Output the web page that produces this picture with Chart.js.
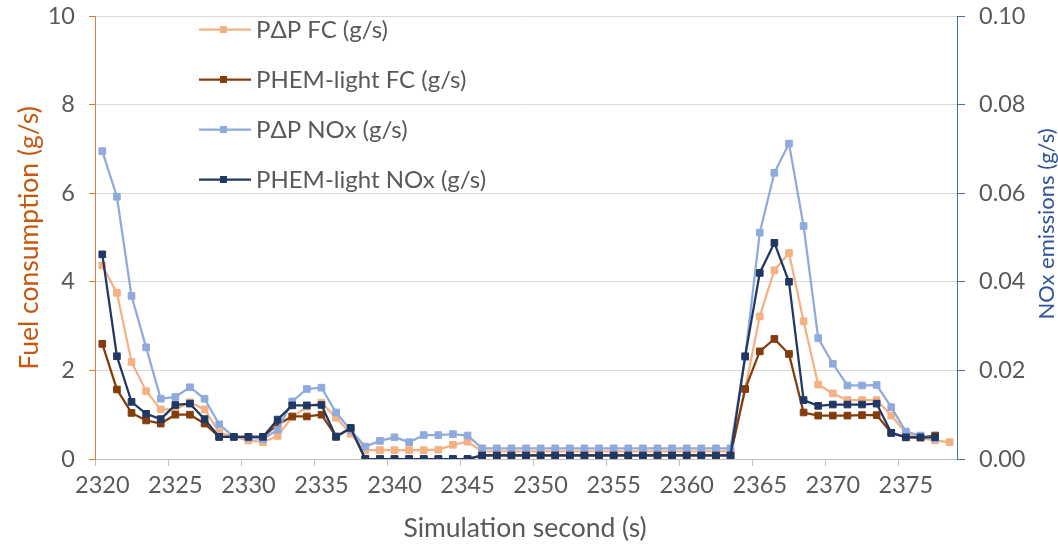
<!DOCTYPE html>
<html>
<head>
<meta charset="utf-8">
<script src="https://cdn.jsdelivr.net/npm/chart.js@4.4.1/dist/chart.umd.min.js"></script>
<style>
  html, body { margin: 0; padding: 0; background: #fff; }
  #wrap { width: 1058px; height: 544px; }
</style>
</head>
<body>
<div id="wrap"><canvas id="chart" width="1058" height="544"></canvas></div>
<script>
// simulation seconds 2320 .. 2378
const seconds = [
  2320, 2321, 2322, 2323, 2324, 2325, 2326, 2327, 2328, 2329,
  2330, 2331, 2332, 2333, 2334, 2335, 2336, 2337, 2338, 2339,
  2340, 2341, 2342, 2343, 2344, 2345, 2346, 2347, 2348, 2349,
  2350, 2351, 2352, 2353, 2354, 2355, 2356, 2357, 2358, 2359,
  2360, 2361, 2362, 2363, 2364, 2365, 2366, 2367, 2368, 2369,
  2370, 2371, 2372, 2373, 2374, 2375, 2376, 2377, 2378
];

// fuel consumption (g/s), left axis
const pdpFC = [
  4.37, 3.75, 2.19, 1.53, 1.12, 1.12, 1.28, 1.12, 0.60, 0.50,
  0.42, 0.38, 0.52, 0.95, 1.18, 1.27, 0.93, 0.57, 0.20, 0.20,
  0.20, 0.20, 0.20, 0.21, 0.32, 0.39, 0.17, 0.17, 0.17, 0.17,
  0.17, 0.17, 0.17, 0.17, 0.17, 0.17, 0.17, 0.17, 0.17, 0.17,
  0.17, 0.17, 0.17, 0.17, 1.58, 3.22, 4.26, 4.65, 3.11, 1.68,
  1.48, 1.33, 1.33, 1.33, 0.98, 0.59, 0.47, 0.42, 0.38
];
const phemFC = [
  2.60, 1.57, 1.04, 0.87, 0.80, 1.00, 1.00, 0.80, 0.50, 0.50,
  0.50, 0.50, 0.78, 0.96, 0.96, 1.00, 0.51, 0.70, 0.00, 0.00,
  0.00, 0.00, 0.00, 0.00, 0.00, 0.00, 0.08, 0.08, 0.08, 0.08,
  0.08, 0.08, 0.08, 0.08, 0.08, 0.08, 0.08, 0.08, 0.08, 0.08,
  0.08, 0.08, 0.08, 0.08, 1.58, 2.43, 2.71, 2.37, 1.05, 0.98,
  0.98, 0.98, 0.99, 0.99, 0.59, 0.49, 0.49, 0.53, null
];

// NOx emissions (g/s), right axis
const pdpNOx = [
  0.0695, 0.0592, 0.0368, 0.0252, 0.0136, 0.0140, 0.0162, 0.0136, 0.0078, 0.0050,
  0.0048, 0.0045, 0.0066, 0.0130, 0.0158, 0.0161, 0.0105, 0.0065, 0.0028, 0.0041,
  0.0049, 0.0038, 0.0054, 0.0054, 0.0056, 0.0053, 0.0024, 0.0024, 0.0024, 0.0024,
  0.0024, 0.0024, 0.0024, 0.0024, 0.0024, 0.0024, 0.0024, 0.0024, 0.0024, 0.0024,
  0.0024, 0.0024, 0.0024, 0.0024, 0.0230, 0.0511, 0.0646, 0.0712, 0.0526, 0.0273,
  0.0215, 0.0166, 0.0166, 0.0167, 0.0117, 0.0062, 0.0053, 0.0047, null
];
const phemNOx = [
  0.0462, 0.0232, 0.0129, 0.0102, 0.0090, 0.0122, 0.0125, 0.0090, 0.0050, 0.0050,
  0.0050, 0.0050, 0.0089, 0.0121, 0.0121, 0.0122, 0.0050, 0.0070, 0.0000, 0.0000,
  0.0000, 0.0000, 0.0000, 0.0000, 0.0000, 0.0000, 0.0008, 0.0008, 0.0008, 0.0008,
  0.0008, 0.0008, 0.0008, 0.0008, 0.0008, 0.0008, 0.0008, 0.0008, 0.0008, 0.0008,
  0.0008, 0.0008, 0.0008, 0.0008, 0.0232, 0.0420, 0.0488, 0.0400, 0.0133, 0.0120,
  0.0123, 0.0123, 0.0123, 0.0125, 0.0059, 0.0049, 0.0049, 0.0049, null
];

const fuelTicks = [0, 2, 4, 6, 8, 10];
const noxTicks = [0, 0.02, 0.04, 0.06, 0.08, 0.10];

const xTitle = 'Simulation second (s)';
const fuelTitle = 'Fuel consumption (g/s)';
const noxTitle = 'NOx emissions (g/s)';

const FONT = 'Lato, "Open Sans", sans-serif';
const TEXT = '#595959';

function series(label, data, color, axis, order) {
    return {
        label: label,
        data: data,
        yAxisID: axis,
        borderColor: color,
        backgroundColor: color,
        pointBackgroundColor: color,
        pointBorderColor: color,
        borderWidth: 2.25,
        pointStyle: 'rect',
        pointRadius: 4.7,
        pointBorderWidth: 1,
        tension: 0,
        order: order
    };
}

// legend inside the plot area + axis titles (right one reads bottom-up)
const decorations = {
    id: 'decorations',
    afterDraw(chart) {
        const ctx = chart.ctx;
        ctx.save();
        ctx.textBaseline = 'middle';
        chart.data.datasets.forEach((ds, i) => {
            const y = 29.5 + i * 50;
            ctx.strokeStyle = ds.borderColor;
            ctx.lineWidth = 2.25;
            ctx.beginPath();
            ctx.moveTo(199, y);
            ctx.lineTo(251, y);
            ctx.stroke();
            ctx.fillStyle = ds.borderColor;
            ctx.fillRect(220, y - 3.5, 7, 7);
            ctx.fillStyle = TEXT;
            ctx.font = '24px ' + FONT;
            ctx.textAlign = 'left';
            ctx.fillText(ds.label, 256, y + 1);
        });

        ctx.textAlign = 'center';
        ctx.fillStyle = TEXT;
        ctx.font = '26.5px ' + FONT;
        ctx.fillText(xTitle, 525, 528);

        ctx.save();
        ctx.translate(29, 238);
        ctx.rotate(-Math.PI / 2);
        ctx.fillStyle = '#C65911';
        ctx.font = '26.5px ' + FONT;
        ctx.fillText(fuelTitle, 0, 0);
        ctx.restore();

        ctx.save();
        ctx.translate(1047, 224);
        ctx.rotate(-Math.PI / 2);
        ctx.fillStyle = '#2F5597';
        ctx.font = '22px ' + FONT;
        ctx.fillText(noxTitle, 0, 0);
        ctx.restore();

        ctx.restore();
    }
};

function fixVertical(width) {
    return (s) => {
        s.width = width;
        s.paddingTop = 0;
        s.paddingBottom = 0;
    };
}

new Chart(document.getElementById('chart'), {
    type: 'line',
    data: {
        labels: seconds,
        datasets: [
            series('P\u0394P FC (g/s)', pdpFC, '#F4B183', 'y', 4),
            series('PHEM-light FC (g/s)', phemFC, '#843C0C', 'y', 3),
            series('P\u0394P NOx (g/s)', pdpNOx, '#8FAADC', 'y1', 2),
            series('PHEM-light NOx (g/s)', phemNOx, '#203864', 'y1', 1)
        ]
    },
    options: {
        responsive: false,
        devicePixelRatio: 1,
        animation: false,
        layout: { padding: { top: 16, right: 0, left: 0, bottom: 0 } },
        plugins: {
            legend: { display: false },
            tooltip: { enabled: false }
        },
        scales: {
            x: {
                type: 'category',
                offset: true,
                border: { color: '#BFBFBF', width: 1 },
                grid: {
                    offset: true,
                    drawOnChartArea: false,
                    tickLength: 7,
                    tickColor: (c) => (c.index % 5 === 0 ? '#BFBFBF' : 'rgba(0,0,0,0)')
                },
                ticks: {
                    autoSkip: false,
                    maxRotation: 0,
                    padding: 5,
                    color: TEXT,
                    font: { family: FONT, size: 23.5 },
                    callback: (v, i) => (i % 5 === 0 ? String(seconds[i]) : '')
                },
                afterFit: (s) => {
                    s.height = 85;
                    s.paddingLeft = 0;
                    s.paddingRight = 0;
                }
            },
            y: {
                position: 'left',
                min: 0,
                max: 10,
                afterBuildTicks: (s) => { s.ticks = fuelTicks.map(v => ({ value: v })); },
                border: { color: '#E07B39', width: 1 },
                grid: { color: '#D9D9D9', tickColor: '#E07B39', tickLength: 6 },
                ticks: {
                    padding: 14,
                    color: TEXT,
                    font: { family: FONT, size: 23.5 }
                },
                afterFit: fixVertical(95)
            },
            y1: {
                position: 'right',
                min: 0,
                max: 0.1,
                afterBuildTicks: (s) => { s.ticks = noxTicks.map(v => ({ value: v })); },
                border: { color: '#4A6FB0', width: 1 },
                grid: { drawOnChartArea: false, tickColor: '#4A6FB0', tickLength: 8 },
                ticks: {
                    padding: 14,
                    color: TEXT,
                    font: { family: FONT, size: 23.5 },
                    callback: (v) => Number(v).toFixed(2)
                },
                afterFit: fixVertical(101)
            }
        }
    },
    plugins: [decorations]
});
</script>
</body>
</html>
